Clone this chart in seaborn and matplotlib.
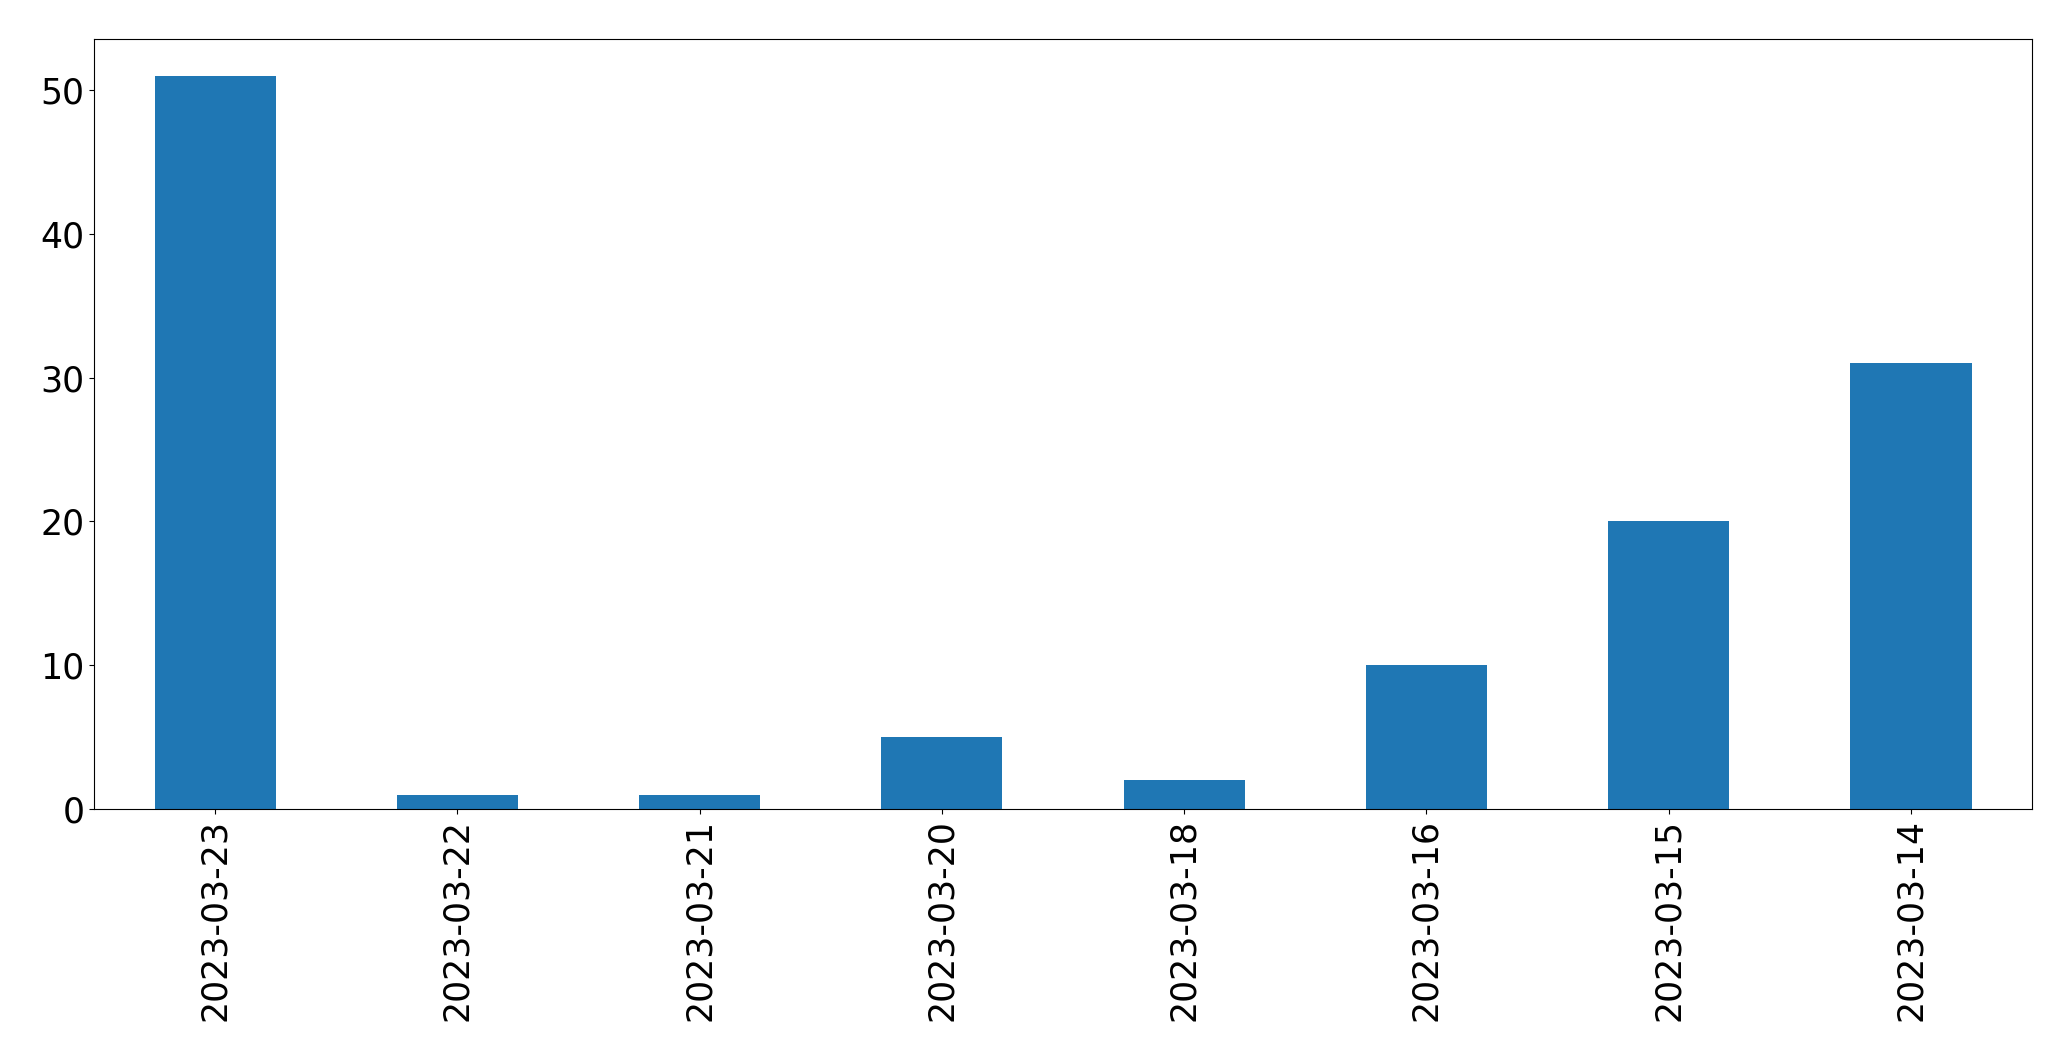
import pandas as pd
import matplotlib
matplotlib.use('Agg')
import matplotlib.pyplot as plt
import seaborn as sns

# %% data

dates = ['2023-03-23', '2023-03-22', '2023-03-21', '2023-03-20',
         '2023-03-18', '2023-03-16', '2023-03-15', '2023-03-14']
counts = [51, 1, 1, 5, 2, 10, 20, 31]

df = pd.DataFrame({'date': dates, 'count': counts})

# %% plot

plt.rcParams['font.family'] = ['DejaVu Sans']
plt.rcParams['font.size'] = 25

fig = plt.figure(figsize=(20.71, 10.61), dpi=100)
ax = fig.add_axes([0.0454, 0.2375, 0.9358, 0.7257])

sns.barplot(data=df, x='date', y='count', order=dates, color='#1f77b4',
            saturation=1, width=0.5, ax=ax)

ax.set_xlabel('')
ax.set_ylabel('')
ax.tick_params(axis='both', labelsize=25)
ax.tick_params(axis='x', labelrotation=90)
ax.set_xlim(-0.5, len(dates) - 0.5)
ax.set_ylim(0, max(counts) * 1.05)

fig.savefig('out.png', dpi=100)
